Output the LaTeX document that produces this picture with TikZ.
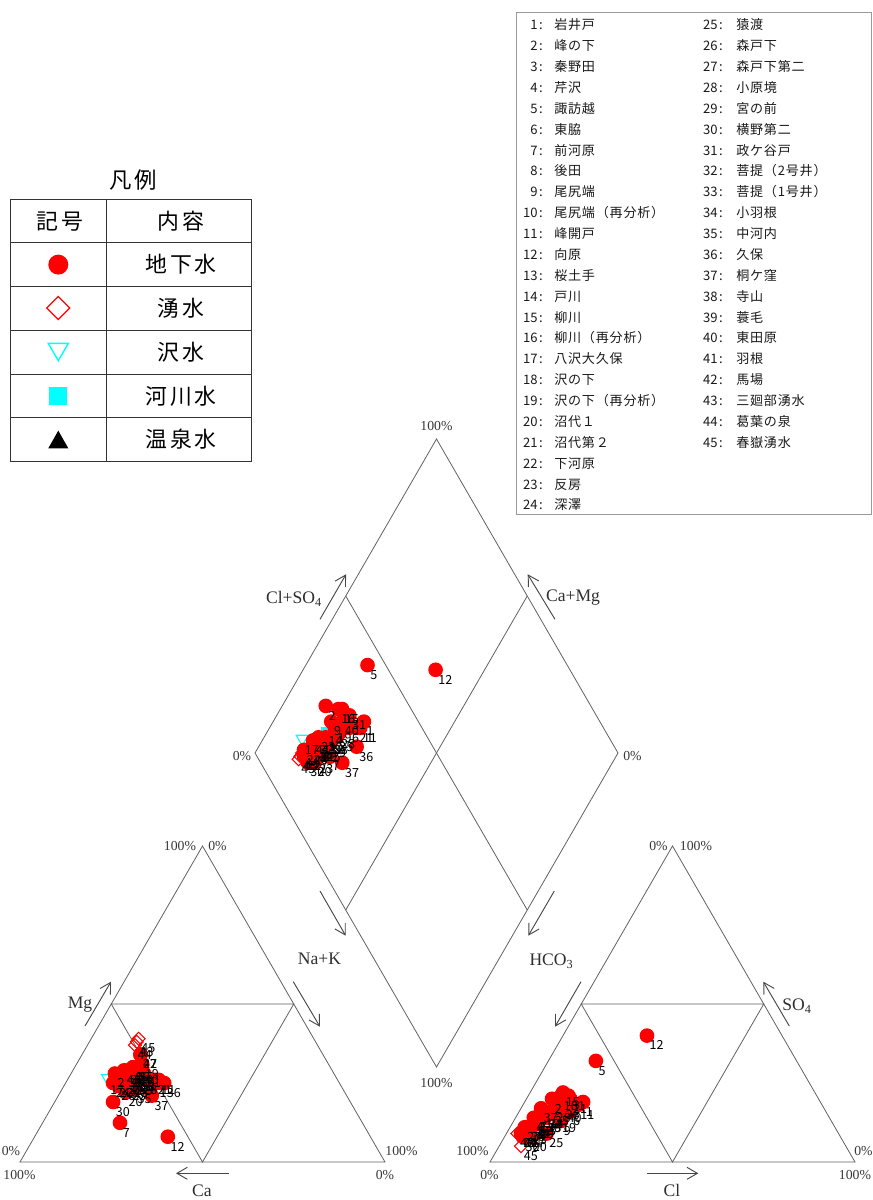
\documentclass[tikz,border=0pt]{standalone}
\usepackage{fontspec}
\setmainfont{Liberation Serif}
\newfontfamily\jp{Noto Sans CJK JP}
\newfontfamily\jpls[LetterSpace=13]{Noto Sans CJK JP}
\newfontfamily\jplist[LetterSpace=6]{Noto Sans CJK JP}
\usetikzlibrary{arrows.meta,calc}
\definecolor{cy}{RGB}{0,255,255}
\definecolor{rd}{RGB}{255,0,0}
\tikzset{
  frame/.style={draw=black!62, line width=0.6pt},
  axarr/.style={draw=black!72, line width=0.7pt, -{Straight Barb[length=7.8pt,width=9pt,line width=0.7pt]}},
  pct/.style={inner sep=0pt, font=\fontsize{10.3}{12}\selectfont, text=black!78},
  axl/.style={inner sep=0pt, font=\fontsize{13.2}{15}\selectfont, text=black!82},
  ptlab/.style={inner sep=0pt, anchor=north west, font=\jp\fontsize{9.4}{10}\selectfont},
  tbl/.style={draw=black!80, line width=0.75pt},
  tcell/.style={inner sep=0pt, anchor=base, font=\jpls\fontsize{16.4}{18}\selectfont},
  lnum/.style={inner sep=0pt, anchor=base east, font=\jp\fontsize{9.8}{11}\selectfont, text=black!90},
  lname/.style={inner sep=0pt, anchor=base west, font=\jplist\fontsize{9.8}{11}\selectfont, text=black!90},
  gwdot/.style={fill=rd},
  spmk/.style={draw=rd, line width=0.8pt},
  stmk/.style={draw=cy, line width=0.8pt},
}
\newcommand\pipercalc{%
  \pgfmathsetmacro\na{100-\ca-\mg}%
  \pgfmathsetmacro\lx{20+3.65*(\na+\mg/2)}%
  \pgfmathsetmacro\ly{1162-3.16*\mg}%
  \pgfmathsetmacro\rx{490+3.65*(\cl+\so/2)}%
  \pgfmathsetmacro\ry{1162-3.16*\so}%
  \pgfmathsetmacro\da{\cl+\so}%
  \pgfmathsetmacro\db{\ca+\mg}%
  \pgfmathsetmacro\dx{436.5+1.815*(\da-\db)}%
  \pgfmathsetmacro\dy{1067-3.14*(\da+\db)}%
}
\def\gwlist{1/50/25/16/19, 2/60/28/7/20, 3/58/26/6/12, 4/56/27/5/14, 5/53/30/13/32,
 6/52/26/14/16, 7/66.4/12.4/6/14, 8/55/29/6/13, 9/54/30/13/13, 10/55/28/7/15,
 11/49/26/15/18, 12/55.5/8/23/40, 13/57/27/6/14, 15/53/30/9/22, 16/54/30/9/21,
 18/55/27/8/14, 19/51/31/12/14, 20/60/22/7/8, 21/50/26/12/20, 22/61/25/4/9,
 23/58/24/6/10, 24/62/25/5/9, 25/57/25/11/9, 26/61/24/5/11, 27/50/34/4/11,
 28/54/26/9/17, 29/57/26/7/12, 30/65/19/5/8, 31/52/28/11/21, 32/57/28/6/13,
 33/56/29/7/13, 34/59/25/6/12, 35/57/23/9/16, 36/48/25/11/18, 37/53.4/21/5.5/17,
 38/54/27/8/15, 39/55/26/8/14, 40/52/29/12/17, 41/57/29/6/12, 42/50/34/6/12}
\def\splist{43/49/38/3/9, 44/50/37/4/9, 45/48/39/6/5}
\def\stlist{17/63/26/6/9}
\def\rvlist{14/56/28/8/15}
\edef\alllist{\rvlist, \stlist, \gwlist, \splist}
\begin{document}
\begin{tikzpicture}[x=0.75pt,y=-0.75pt]
\useasboundingbox (0,0) rectangle (873,1200);

% ---------- legend ----------
\node[inner sep=0pt, anchor=base, font=\jpls\fontsize{16.8}{18}\selectfont] (ttl) at (133.5,188.5) {凡例};
\draw[tbl] (10,199.3) rectangle (251.7,461);
\draw[tbl] (106.7,199.3) -- (106.7,461);
\foreach \yy in {242.3,286,330,374,417.7} \draw[tbl] (10,\yy) -- (251.7,\yy);
\node[tcell] (h1) at (60,229) {記号};
\node[tcell] (h2) at (181,229) {内容};
\node[tcell] (c1) at (181,272.4) {地下水};
\node[tcell] (c2) at (181,316.2) {湧水};
\node[tcell] (c3) at (181,360.2) {沢水};
\node[tcell] (c4) at (181,404.1) {河川水};
\node[tcell] (c5) at (181,447.6) {温泉水};
\fill[rd] (58.3,264.6) circle[radius=7.5pt];
\draw[rd, line width=1pt] (58.3,296.5) -- (69.8,308) -- (58.3,319.5) -- (46.8,308) -- cycle;
\draw[cy, line width=1.05pt] (48.3,343.4) -- (68.3,343.4) -- (58.3,360.7) -- cycle;
\fill[cy] (49.3,386.9) rectangle (67.3,404.9);
\fill[black] (48.3,448.3) -- (68.3,448.3) -- (58.3,430.6) -- cycle;

% ---------- station list ----------
\draw[draw=black!40, line width=0.75pt] (516,12.5) rectangle (871.5,514.5);
\foreach \n/\nm in {1/岩井戸, 2/峰の下, 3/秦野田, 4/芹沢, 5/諏訪越, 6/東脇, 7/前河原, 8/後田,
  9/尾尻端, 10/尾尻端（再分析）, 11/峰開戸, 12/向原, 13/桜土手, 14/戸川, 15/柳川,
  16/柳川（再分析）, 17/八沢大久保, 18/沢の下, 19/沢の下（再分析）, 20/沼代１, 21/沼代第２,
  22/下河原, 23/反房, 24/深澤} {
  \pgfmathsetmacro\yy{25+(\n-1)*20.87+4.9}
  \node[lnum] (n\n) at (544.5,\yy) {\n\makebox[0.5em]{:}};
  \node[lname] (s\n) at (554,\yy) {\nm};
}
\foreach \n/\nm in {25/猿渡, 26/森戸下, 27/森戸下第二, 28/小原境, 29/宮の前, 30/横野第二,
  31/政ケ谷戸, 32/菩提（2号井）, 33/菩提（1号井）, 34/小羽根, 35/中河内, 36/久保, 37/桐ケ窪,
  38/寺山, 39/蓑毛, 40/東田原, 41/羽根, 42/馬場, 43/三廻部湧水, 44/葛葉の泉, 45/春嶽湧水} {
  \pgfmathsetmacro\yy{25+(\n-25)*20.87+4.9}
  \node[lnum] (n\n) at (724.5,\yy) {\n\makebox[0.5em]{:}};
  \node[lname] (s\n) at (736,\yy) {\nm};
}

% ---------- frames ----------
\coordinate (AL) at (20,1162);  \coordinate (BL) at (385,1162); \coordinate (CL) at (202.5,846);
\coordinate (AR) at (490,1162); \coordinate (BR) at (855,1162); \coordinate (CR) at (672.5,846);
\coordinate (DL) at (255,753);  \coordinate (DT) at (436.5,439);
\coordinate (DR) at (618,753);  \coordinate (DB) at (436.5,1067);
\draw[frame] (AL) -- (BL) -- (CL) -- cycle;
\draw[frame] ($(AL)!0.5!(CL)$) -- ($(BL)!0.5!(CL)$) -- ($(AL)!0.5!(BL)$) -- cycle;
\draw[frame] (AR) -- (BR) -- (CR) -- cycle;
\draw[frame] ($(AR)!0.5!(CR)$) -- ($(BR)!0.5!(CR)$) -- ($(AR)!0.5!(BR)$) -- cycle;
\draw[frame] (DL) -- (DT) -- (DR) -- (DB) -- cycle;
\draw[frame] ($(DL)!0.5!(DT)$) -- ($(DR)!0.5!(DB)$);
\draw[frame] ($(DT)!0.5!(DR)$) -- ($(DB)!0.5!(DL)$);

% ---------- percent labels ----------
\node[pct] (p1) at (436.5,426) {100\%};
\node[pct] (p2) at (242,756) {0\%};
\node[pct] (p3) at (632.5,756) {0\%};
\node[pct] (p4) at (436.5,1083) {100\%};
\node[pct] (p5) at (180,846) {100\%};
\node[pct] (p6) at (217.5,846) {0\%};
\node[pct] (p7) at (11,1151) {0\%};
\node[pct] (p8) at (19.5,1175) {100\%};
\node[pct] (p9) at (401.5,1151) {100\%};
\node[pct] (p10) at (385,1175) {0\%};
\node[pct] (p11) at (658.5,846) {0\%};
\node[pct] (p12) at (696,846) {100\%};
\node[pct] (p13) at (472.5,1151) {100\%};
\node[pct] (p14) at (489.5,1175) {0\%};
\node[pct] (p15) at (863.5,1151) {0\%};
\node[pct] (p16) at (855,1175) {100\%};

% ---------- axis labels and arrows ----------
\node[axl] (aCS) at (294,599) {Cl+SO\textsubscript{4}};
\node[axl] (aCM) at (573,598) {Ca+Mg};
\node[axl] (aNK) at (319.5,959) {Na+K};
\node[axl] (aHC) at (551.5,961) {HCO\textsubscript{3}};
\node[axl] (aMg) at (80,1005) {Mg};
\node[axl] (aCa) at (202,1190.5) {Ca};
\node[axl] (aCl) at (672,1190.5) {Cl};
\node[axl] (aSO) at (797,1006) {SO\textsubscript{4}};
\coordinate (r1a) at (320,619.3);   \coordinate (r1b) at (346,574.3);
\coordinate (r2a) at (555,619.3);   \coordinate (r2b) at (527.7,574.3);
\coordinate (r3a) at (320,891);     \coordinate (r3b) at (345.7,935.7);
\coordinate (r4a) at (293.3,981.7); \coordinate (r4b) at (320,1026.7);
\coordinate (r5a) at (554.3,891);   \coordinate (r5b) at (528.3,935.7);
\coordinate (r6a) at (581,981.7);   \coordinate (r6b) at (555,1026.7);
\coordinate (r7a) at (85,1026);     \coordinate (r7b) at (111,981.7);
\coordinate (r8a) at (228.7,1173.3); \coordinate (r8b) at (176,1173.3);
\coordinate (r9a) at (646.7,1173.3); \coordinate (r9b) at (698.3,1173.3);
\coordinate (r10a) at (789.3,1026); \coordinate (r10b) at (763.3,981.7);
\foreach \k in {1,...,10} \draw[axarr] (r\k a) -- (r\k b);

% ---------- data points ----------
% river water
\foreach \i/\ca/\mg/\cl/\so in \rvlist {\pipercalc
  \fill[cy] (\lx-4.5,\ly-4.5) rectangle (\lx+4.5,\ly+4.5);
  \fill[cy] (\rx-4.5,\ry-4.5) rectangle (\rx+4.5,\ry+4.5);
  \fill[cy] (\dx-4.5,\dy-4.5) rectangle (\dx+4.5,\dy+4.5);}
% stream water
\foreach \i/\ca/\mg/\cl/\so in \stlist {\pipercalc
  \draw[stmk] (\lx-6,\ly-5.2) -- (\lx+6,\ly-5.2) -- (\lx,\ly+5.2) -- cycle;
  \draw[stmk] (\rx-6,\ry-5.2) -- (\rx+6,\ry-5.2) -- (\rx,\ry+5.2) -- cycle;
  \draw[stmk] (\dx-6,\dy-5.2) -- (\dx+6,\dy-5.2) -- (\dx,\dy+5.2) -- cycle;}
% groundwater
\foreach \i/\ca/\mg/\cl/\so in \gwlist {\pipercalc
  \fill[gwdot] (\lx,\ly) circle[radius=5.5pt];
  \fill[gwdot] (\rx,\ry) circle[radius=5.5pt];
  \fill[gwdot] (\dx,\dy) circle[radius=5.5pt];}
% springs
\foreach \i/\ca/\mg/\cl/\so in \splist {\pipercalc
  \draw[spmk] (\lx,\ly-6.5) -- (\lx+6.5,\ly) -- (\lx,\ly+6.5) -- (\lx-6.5,\ly) -- cycle;
  \draw[spmk] (\rx,\ry-6.5) -- (\rx+6.5,\ry) -- (\rx,\ry+6.5) -- (\rx-6.5,\ry) -- cycle;
  \draw[spmk] (\dx,\dy-6.5) -- (\dx+6.5,\dy) -- (\dx,\dy+6.5) -- (\dx-6.5,\dy) -- cycle;}
% labels
\foreach \i/\ca/\mg/\cl/\so in \alllist {\pipercalc
  \node[ptlab] (lL\i) at (\lx+2.5,\ly+5) {\i};
  \node[ptlab] (lR\i) at (\rx+2.5,\ry+5) {\i};
  \node[ptlab] (lD\i) at (\dx+2.5,\dy+5) {\i};}
\end{tikzpicture}
\end{document}
